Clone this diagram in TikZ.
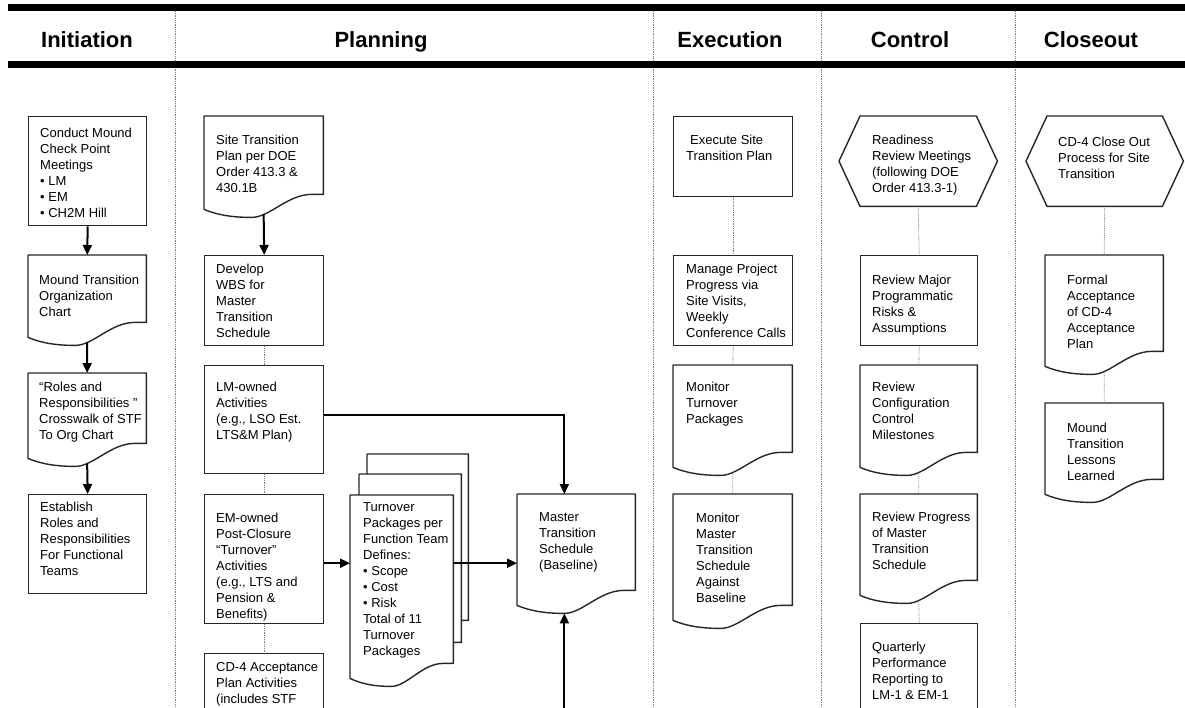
\documentclass[tikz,border=0pt]{standalone}
\usepackage{fontspec}
\setmainfont{Liberation Sans}
\usetikzlibrary{calc,arrows.meta}

% document shape with a wavy bottom, drawn round a named node
\newcommand{\docshape}[1]{%
  \draw[outline] (#1.south west) -- (#1.north west) -- (#1.north east)
    -- ([yshift=15pt]#1.south east) -- ($(#1.south west)!0.9!(#1.south east)+(0,-15)$)
    .. controls ($(#1.south west)!0.7!(#1.south east)+(0,-15)$) and ($(#1.south west)!0.55!(#1.south east)+(0,8)$)
    .. ($(#1.south west)!0.4!(#1.south east)+(0,8)$) coordinate[pos=0.78] (#1-b) coordinate (#1-lo)
    .. controls ($(#1.south west)!0.25!(#1.south east)+(0,8)$) and ($(#1.south west)!0.12!(#1.south east)+(0,6)$)
    .. (#1.south west) -- cycle;}
% hexagon (preparation) shape
\newcommand{\hexshape}[1]{%
  \draw[outline] (#1.west) -- ([xshift=21pt]#1.north west) -- ([xshift=-21pt]#1.north east)
    -- (#1.east) -- ([xshift=-21pt]#1.south east) -- ([xshift=21pt]#1.south west) -- cycle;}
% text set inside a box, from its top left corner
\newcommand{\boxtext}[4]{\node[txt] (#1-txt) at ([shift={(#2,#3)}]#1.north west) {#4};}

\begin{document}
\begin{tikzpicture}[x=1pt, y=-1pt,
  stepbox/.style={draw=black!85, line width=1.4pt, fill=white, anchor=north west, inner sep=0pt},
  frame/.style={anchor=north west, inner sep=0pt},
  outline/.style={draw=black!85, line width=1.4pt, fill=white, line join=round},
  txt/.style={anchor=north west, inner sep=0pt, align=left, font=\fontsize{13}{16}\selectfont},
  phase/.style={anchor=base, font=\fontsize{22}{25}\selectfont\bfseries},
  flow/.style={line width=2pt, -{Triangle[length=10pt,width=9pt]}},
  link/.style={densely dotted, gray, line width=0.8pt},
  lane/.style={densely dotted, gray, line width=0.8pt}]
\useasboundingbox (0,0) rectangle (1185,707);
\clip (0,0) rectangle (1185,707);

% Lanes and header
\foreach \x in {175,653,821,1015}
  \draw[lane] (\x,11) -- (\x,707);
\draw[line width=7pt] (8,7.5) -- (1185,7.5);
\draw[line width=7pt] (8,64.5) -- (1185,64.5);
\node[phase] (hinit) at (87,47) {Initiation};
\node[phase] (hplan) at (381,47) {Planning};
\node[phase] (hexec) at (730,47) {Execution};
\node[phase] (hctrl) at (910,47) {Control};
\node[phase] (hclos) at (1091,47) {Closeout};

% Initiation
\node[stepbox, minimum width=118, minimum height=109] (conduct) at (28,116) {};
\boxtext{conduct}{12}{12}{Conduct Mound\\Check Point\\Meetings\\• LM\\• EM\\• CH2M Hill}
\node[frame, minimum width=118, minimum height=82] (orgchart) at (28,255) {};
\docshape{orgchart}
\boxtext{orgchart}{11}{20}{Mound Transition\\Organization\\Chart}
\node[frame, minimum width=118, minimum height=85] (roles) at (28,373) {};
\docshape{roles}
\boxtext{roles}{11}{9}{“Roles and\\Responsibilities ”\\Crosswalk of STF\\To Org Chart}
\node[stepbox, minimum width=118, minimum height=99] (estab) at (28,494) {};
\boxtext{estab}{12}{8}{Establish\\Roles and\\Responsibilities\\For Functional\\Teams}
\draw[flow] (conduct.south) -- (orgchart.north);
\draw[flow] (orgchart-b) -- (roles.north);
\draw[flow] (roles-b) -- (estab.north);

% Planning
\node[frame, minimum width=119, minimum height=93] (sitetp) at (204,116) {};
\docshape{sitetp}
\boxtext{sitetp}{12}{19}{Site Transition\\Plan per DOE\\Order 413.3 \&\\430.1B}
\node[stepbox, minimum width=119, minimum height=90] (wbs) at (204,255) {};
\boxtext{wbs}{12}{9}{Develop\\WBS for\\Master\\Transition\\Schedule}
\node[stepbox, minimum width=119, minimum height=108] (lmown) at (204,365) {};
\boxtext{lmown}{12}{17}{LM-owned\\Activities\\(e.g., LSO Est.\\LTS\&M Plan)}
\node[stepbox, minimum width=119, minimum height=129] (emown) at (204,494) {};
\boxtext{emown}{12}{19}{EM-owned\\Post-Closure\\“Turnover”\\Activities\\(e.g., LTS and\\Pension \&\\Benefits)}
\node[stepbox, minimum width=119, minimum height=80] (cdaccept) at (204,653) {};
\boxtext{cdaccept}{12}{9}{CD-4 Acceptance\\Plan Activities\\(includes STF}
\draw[flow] (sitetp-b) -- (wbs.north);
\draw[link] (wbs.south) -- (lmown.north);
\draw[link] (lmown.south) -- (emown.north);
\draw[link] (emown.south) -- (cdaccept.north);

% turnover packages (stack of three pages)
\node[frame, minimum width=101, minimum height=181] (tp3) at (367,454) {};
\docshape{tp3}
\node[frame, minimum width=102, minimum height=183] (tp2) at (359,474) {};
\docshape{tp2}
\node[frame, minimum width=103, minimum height=183] (tp1) at (350,495) {};
\docshape{tp1}
\boxtext{tp1}{13}{7}{Turnover\\Packages per\\Function Team\\Defines:\\• Scope\\• Cost\\• Risk\\Total of 11\\Turnover\\Packages}

\node[frame, minimum width=118, minimum height=111] (mts) at (517,494) {};
\docshape{mts}
\boxtext{mts}{22}{18}{Master\\Transition\\Schedule\\(Baseline)}
\coordinate (feed) at (0,720);
\draw[flow] ([yshift=5pt]lmown.east) -| (mts-lo |- mts.north);
\draw[flow] ([yshift=-4pt]emown.east) -- ([yshift=-4pt]emown.east -| tp1.west);
\draw[flow] ([yshift=-4pt]emown.east -| tp1.east) -- ([yshift=-4pt]emown.east -| mts.west);
\draw[flow] (feed -| mts-lo) -- (mts-lo);

% Execution
\node[stepbox, minimum width=119, minimum height=80] (exec) at (673,116) {};
\boxtext{exec}{13}{19}{\hspace*{4pt}Execute Site\\Transition Plan}
\node[stepbox, minimum width=119, minimum height=90] (manage) at (673,255) {};
\boxtext{manage}{13}{9}{Manage Project\\Progress via\\Site Visits,\\Weekly\\Conference Calls}
\node[frame, minimum width=119, minimum height=102] (montp) at (673,365) {};
\docshape{montp}
\boxtext{montp}{13}{17}{Monitor\\Turnover\\Packages}
\node[frame, minimum width=119, minimum height=126] (monmts) at (673,494) {};
\docshape{monmts}
\boxtext{monmts}{23}{19}{Monitor\\Master\\Transition\\Schedule\\Against\\Baseline}
\draw[link] (exec.south) -- (manage.north);
\draw[link] (manage.south) -- (montp.north);
\draw[link] (montp-b) -- (monmts.north);

% Control
\node[frame, minimum width=158, minimum height=90] (ready) at (839,116) {};
\hexshape{ready}
\boxtext{ready}{33}{19}{Readiness\\Review Meetings\\(following DOE\\Order 413.3-1)}
\node[stepbox, minimum width=117, minimum height=90] (risks) at (860,255) {};
\boxtext{risks}{12}{20}{Review Major\\Programmatic\\Risks \&\\Assumptions}
\node[frame, minimum width=117, minimum height=102] (config) at (860,365) {};
\docshape{config}
\boxtext{config}{12}{17}{Review\\Configuration\\Control\\Milestones}
\node[frame, minimum width=117, minimum height=101] (progress) at (860,494) {};
\docshape{progress}
\boxtext{progress}{12}{18}{Review Progress\\of Master\\Transition\\Schedule}
\node[stepbox, minimum width=117, minimum height=110] (quarterly) at (860,623) {};
\boxtext{quarterly}{12}{19}{Quarterly\\Performance\\Reporting to\\LM-1 \& EM-1}
\draw[link] (ready.south) -- (risks.north);
\draw[link] (risks.south) -- (config.north);
\draw[link] (config-b) -- (progress.north);
\draw[link] (progress-b) -- (quarterly.north);

% Closeout
\node[frame, minimum width=157, minimum height=90] (closeout) at (1026,116) {};
\hexshape{closeout}
\boxtext{closeout}{32}{21}{CD-4 Close Out\\Process for Site\\Transition}
\node[frame, minimum width=118, minimum height=111] (formal) at (1045,255) {};
\docshape{formal}
\boxtext{formal}{22}{20}{Formal\\Acceptance\\of CD-4\\Acceptance\\Plan}
\node[frame, minimum width=118, minimum height=91] (lessons) at (1045,403) {};
\docshape{lessons}
\boxtext{lessons}{22}{20}{Mound\\Transition\\Lessons\\Learned}
\draw[link] (closeout.south) -- (formal.north);
\draw[link] (formal-b) -- (lessons.north);

\end{tikzpicture}
\end{document}
